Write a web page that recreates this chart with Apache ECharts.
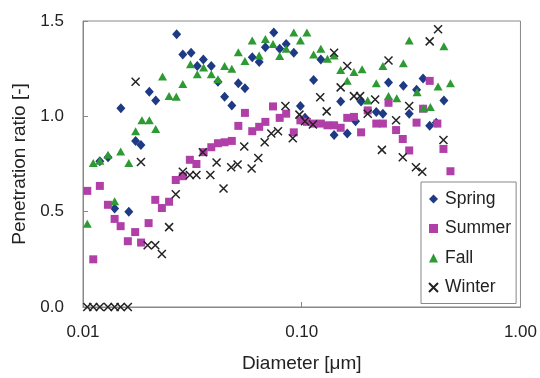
<!DOCTYPE html>
<html>
<head>
<meta charset="utf-8">
<script src="https://cdn.jsdelivr.net/npm/echarts@6/dist/echarts.min.js"></script>
<style>html,body{margin:0;padding:0;background:#fff}#c{width:540px;height:378px}</style>
</head>
<body>
<div id="c"></div>
<script>
const xTicks = ['0.01', '0.10', '1.00'];
const yTicks = ['0.0', '0.5', '1.0', '1.5'];
const seriesNames = ['Spring', 'Summer', 'Fall', 'Winter'];

const springData = [
  [0.01194,0.764],[0.01302,0.785],[0.01395,0.517],[0.0149,1.043],[0.0162,0.500],
  [0.0174,0.871],[0.0184,0.850],[0.0201,1.129],[0.0215,1.083],[0.0268,1.431],
  [0.0286,1.324],[0.0312,1.333],[0.0333,1.264],[0.0355,1.298],[0.0386,1.264],
  [0.0414,1.181],[0.0444,1.103],[0.0479,1.057],[0.0513,1.173],[0.0550,1.147],
  [0.0594,1.310],[0.0639,1.285],[0.0682,1.362],[0.0745,1.440],[0.0793,1.354],
  [0.0849,1.380],[0.092,1.333],[0.0986,1.054],[0.1035,0.992],[0.1133,1.191],
  [0.1223,1.298],[0.1406,0.902],[0.1507,1.078],[0.1615,0.910],[0.1762,0.974],
  [0.1868,1.078],[0.2192,1.023],[0.235,1.014],[0.2493,1.178],[0.2915,1.160],
  [0.310,1.014],[0.335,1.140],[0.3587,1.199],[0.3846,0.950],[0.412,0.967],
  [0.4467,1.083]
];

const summerData = [
  [0.01046,0.609],[0.01114,0.250],[0.01194,0.635],[0.0130,0.536],[0.01395,0.462],
  [0.01486,0.424],[0.01603,0.345],[0.01732,0.393],[0.01843,0.338],[0.01995,0.440],
  [0.0214,0.562],[0.02294,0.519],[0.02475,0.552],[0.02655,0.666],[0.0286,0.686],
  [0.0308,0.772],[0.0330,0.750],[0.0356,0.812],[0.0386,0.838],[0.0414,0.859],
  [0.0444,0.864],[0.0479,0.871],[0.0513,0.950],[0.0550,1.018],[0.0594,0.922],
  [0.0639,0.945],[0.0682,0.971],[0.0739,1.052],[0.0793,0.992],[0.0849,1.014],
  [0.092,0.916],[0.0986,0.979],[0.1056,0.971],[0.1133,0.962],[0.1223,0.962],
  [0.1311,0.953],[0.1406,0.953],[0.1507,0.940],[0.1615,0.992],[0.1733,0.997],
  [0.1868,0.916],[0.2003,1.031],[0.2192,0.962],[0.235,0.962],[0.2493,1.071],
  [0.270,0.928],[0.2897,0.881],[0.310,0.821],[0.335,0.967],[0.3587,1.040],
  [0.3846,1.186],[0.417,0.962],[0.4446,0.829],[0.4786,0.712]
];

const fallData = [
  [0.01046,0.436],[0.01114,0.755],[0.01194,0.767],[0.0130,0.798],[0.01395,0.554],
  [0.01486,0.816],[0.0162,0.755],[0.0174,0.922],[0.0186,0.979],[0.0201,0.979],
  [0.0215,0.933],[0.0231,1.209],[0.02475,1.106],[0.0267,1.103],[0.0286,1.169],
  [0.0310,1.273],[0.0333,1.221],[0.0356,1.256],[0.0386,1.221],[0.0414,1.195],
  [0.0444,1.264],[0.0479,1.250],[0.0513,1.336],[0.0550,1.290],[0.0594,1.398],
  [0.0639,1.319],[0.0682,1.405],[0.0739,1.380],[0.0793,1.316],[0.0849,1.354],
  [0.092,1.440],[0.0986,1.398],[0.1056,1.440],[0.1133,1.324],[0.1223,1.354],
  [0.1311,1.302],[0.1406,1.319],[0.1507,1.243],[0.1615,1.186],[0.1733,1.233],
  [0.1888,1.247],[0.2003,1.083],[0.2192,1.174],[0.235,1.264],[0.2493,1.106],
  [0.2719,1.095],[0.2915,1.278],[0.310,1.398],[0.337,1.126],[0.3614,1.043],
  [0.3873,1.049],[0.42,1.157],[0.4467,1.367],[0.4786,1.174]
];

const winterData = [
  [0.01046,0],[0.01114,0],[0.01194,0],[0.0130,0],[0.01395,0],[0.01486,0],[0.01603,0],
  [0.0174,1.181],[0.0184,0.760],[0.01975,0.324],[0.0214,0.324],[0.02294,0.278],
  [0.02475,0.419],[0.02655,0.591],[0.0286,0.709],[0.0308,0.692],[0.0330,0.692],
  [0.0353,0.812],[0.0382,0.692],[0.0408,0.758],[0.0439,0.622],[0.0476,0.733],
  [0.0509,0.747],[0.0546,0.842],[0.0590,0.726],[0.0633,0.781],[0.0677,0.864],
  [0.0726,0.910],[0.0779,0.922],[0.0842,1.054],[0.0910,0.885],[0.0976,1.009],
  [0.1035,0.974],[0.1125,0.957],[0.1215,1.100],[0.1300,1.026],[0.1406,1.333],
  [0.1507,1.152],[0.1615,1.264],[0.1733,1.106],[0.1848,1.106],[0.2003,1.014],
  [0.2166,1.088],[0.2326,0.824],[0.2493,1.293],[0.270,0.979],[0.2897,0.785],
  [0.310,1.054],[0.3327,0.733],[0.3556,0.709],[0.3846,1.393],[0.42,1.457],
  [0.4446,0.876]
];

const FONT = '"Liberation Sans", Arial, sans-serif';
const chart = echarts.init(document.getElementById('c'));
chart.setOption({
  animation: false,
  backgroundColor: '#fff',
  grid: {left: 83, right: 18, top: 21, bottom: 67, show: true, borderColor: '#888', borderWidth: 1},
  legend: {
    orient: 'vertical', left: 421, top: 182,
    padding: [8, 5, 7, 7], itemGap: 11.5, itemWidth: 9, itemHeight: 9,
    borderColor: '#888', borderWidth: 1, backgroundColor: '#fff',
    textStyle: {fontFamily: FONT, fontSize: 17.5, color: '#222', padding: [0, 0, 0, 2]},
    data: seriesNames
  },
  xAxis: {
    type: 'log', logBase: 10, min: 0.01, max: 1,
    name: 'Diameter [μm]', nameLocation: 'middle', nameGap: 47,
    nameTextStyle: {fontFamily: FONT, fontSize: 19, color: '#222'},
    axisLine: {lineStyle: {color: '#888'}},
    axisTick: {show: true, inside: true, length: 5, lineStyle: {color: '#888'}},
    minorTick: {show: false},
    splitLine: {show: false},
    axisLabel: {
      fontFamily: FONT, fontSize: 17, color: '#222', margin: 17,
      formatter: v => { const s = v.toFixed(2); return xTicks.includes(s) ? s : ''; }
    }
  },
  yAxis: {
    type: 'value', min: 0, max: 1.5, interval: 0.5,
    name: 'Penetration ratio [-]', nameLocation: 'middle', nameGap: 54,
    nameTextStyle: {fontFamily: FONT, fontSize: 19, color: '#222'},
    axisLine: {show: true, lineStyle: {color: '#888'}},
    axisTick: {show: true, inside: true, length: 5, lineStyle: {color: '#888'}},
    splitLine: {show: false},
    axisLabel: {
      fontFamily: FONT, fontSize: 17, color: '#222', margin: 19,
      formatter: v => yTicks[Math.round(v / 0.5)]
    }
  },
  series: [
    {name: seriesNames[0], type: 'scatter', data: springData, symbol: 'diamond', symbolSize: [9, 10],
     itemStyle: {color: '#1E3A84', opacity: 1}},
    {name: seriesNames[1], type: 'scatter', data: summerData, symbol: 'rect', symbolSize: 8,
     itemStyle: {color: '#B040A8', opacity: 1}},
    {name: seriesNames[2], type: 'scatter', data: fallData, symbol: 'triangle', symbolSize: [9, 8],
     itemStyle: {color: '#2E9A34', opacity: 1}},
    {name: seriesNames[3], type: 'scatter', data: winterData, symbol: 'path://M0,0L10,10M10,0L0,10', symbolSize: 8,
     itemStyle: {color: 'rgba(0,0,0,0)', borderColor: '#222', borderWidth: 1.5, opacity: 1}}
  ]
});
</script>
</body>
</html>
